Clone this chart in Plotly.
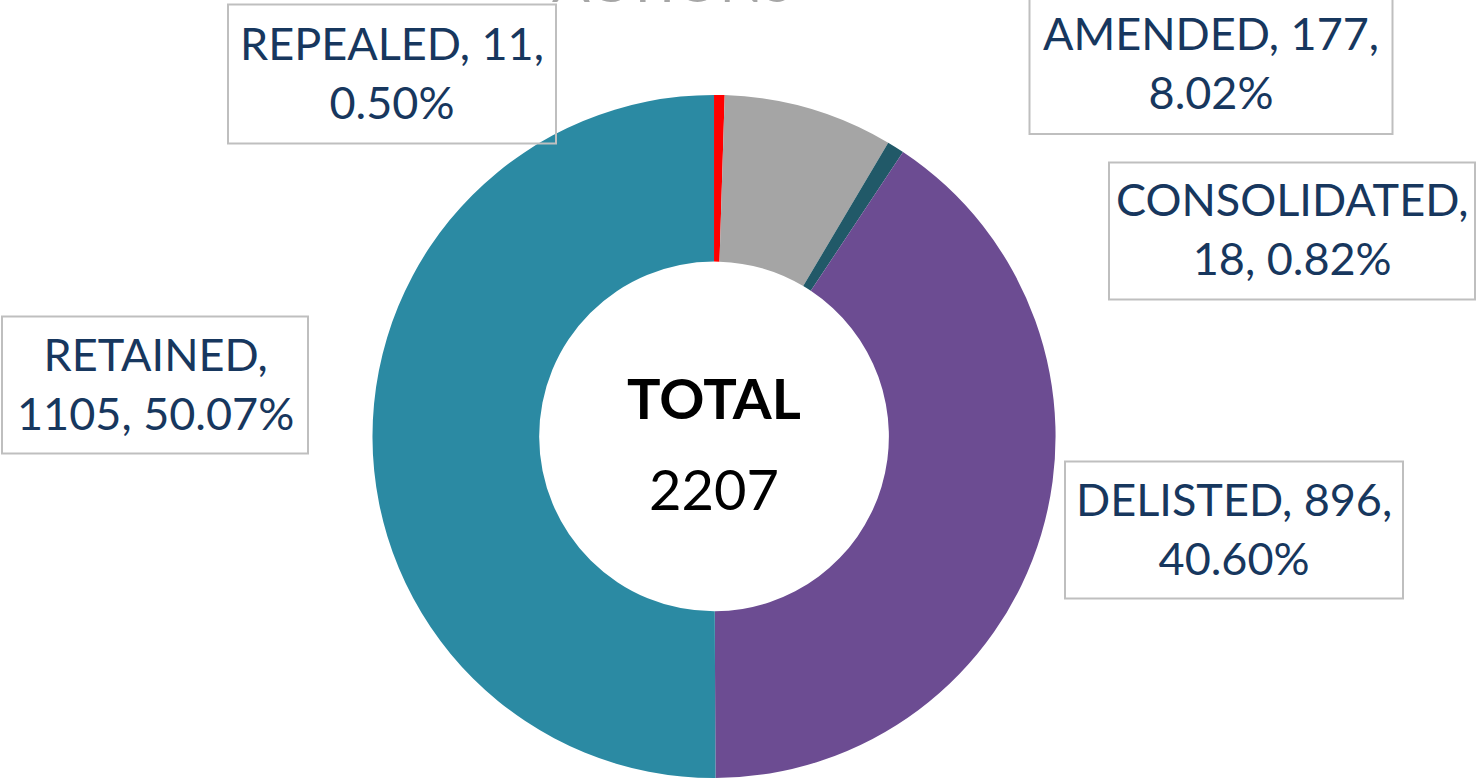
import plotly.graph_objects as go

categories = ["REPEALED", "AMENDED", "CONSOLIDATED", "DELISTED", "RETAINED"]
counts = [11, 177, 18, 896, 1105]
colors = ["#ff0000", "#a5a5a5", "#215968", "#6c4c92", "#2b8aa3"]
title_text = "ACTIONS"

total = sum(counts)

fig = go.Figure()
fig.add_trace(go.Pie(
    labels=categories,
    values=counts,
    sort=False,
    direction="clockwise",
    rotation=0,
    hole=0.512,
    marker=dict(colors=colors, line=dict(width=0)),
    textinfo="none",
    hoverinfo="label+value+percent",
    domain=dict(x=[0.2517, 0.7145], y=[0.0, 0.878]),
    showlegend=False,
))

FONT = "Lato"
TXT = "#17375e"
BOX = "#bfbfbf"

# label boxes: (x_center_px, y_center_px, width_px, height_px)
box_pos = {
    "REPEALED": (392, 74, 328, 139),
    "AMENDED": (1211, 64, 363, 140),
    "CONSOLIDATED": (1292, 231, 366, 137),
    "RETAINED": (155, 385, 306, 137),
    "DELISTED": (1234, 530, 338, 137),
}
line_break = {
    "REPEALED": ("{n}, {v},", "{p}"),
    "AMENDED": ("{n}, {v},", "{p}"),
    "CONSOLIDATED": ("{n},", "{v}, {p}"),
    "RETAINED": ("{n},", "{v}, {p}"),
    "DELISTED": ("{n}, {v},", "{p}"),
}
W, H = 1478, 778
for name, v in zip(categories, counts):
    p = f"{100 * v / total:.2f}%"
    l1, l2 = line_break[name]
    text = l1.format(n=name, v=v, p=p) + "<br>" + l2.format(n=name, v=v, p=p)
    cx, cy, bw, bh = box_pos[name]
    fig.add_shape(type="rect", xref="paper", yref="paper",
                  x0=(cx - bw / 2) / W, x1=(cx + bw / 2) / W,
                  y0=1 - (cy + bh / 2) / H, y1=1 - (cy - bh / 2) / H,
                  line=dict(color=BOX, width=2), fillcolor="rgba(0,0,0,0)")
    fig.add_annotation(x=cx / W, y=1 - (cy - 2) / H, xref="paper", yref="paper",
                       text=text, showarrow=False, xanchor="center", yanchor="middle",
                       font=dict(family=FONT, size=45, color=TXT), align="center")

# center text
fig.add_annotation(x=714 / W, y=1 - 398 / H, xref="paper", yref="paper",
                   text="<b>TOTAL</b>", showarrow=False,
                   font=dict(family=FONT, size=56, color="#000000"))
fig.add_annotation(x=714 / W, y=1 - 488 / H, xref="paper", yref="paper",
                   text=str(total), showarrow=False,
                   font=dict(family=FONT, size=56, color="#000000"))

# title, mostly above the visible area as in the reference
fig.add_annotation(x=672 / W, y=1 - 16 / H, xref="paper", yref="paper",
                   text=title_text, showarrow=False, yanchor="bottom",
                   font=dict(family=FONT, size=56, color="#a6a6a6"))

fig.update_layout(
    width=W, height=H,
    margin=dict(l=0, r=0, t=0, b=0),
    paper_bgcolor="#ffffff",
    plot_bgcolor="#ffffff",
)

fig.write_html("out.html")
